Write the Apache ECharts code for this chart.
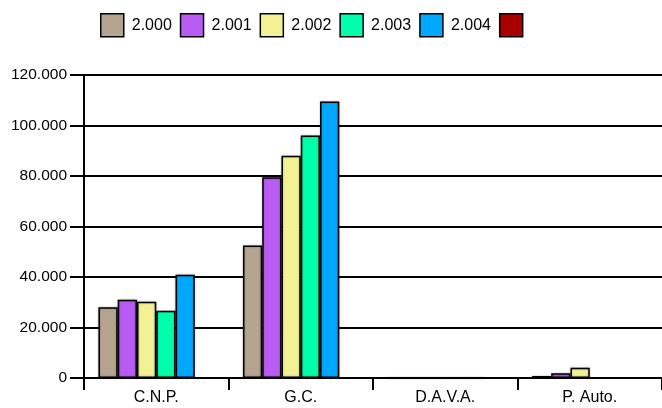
<!DOCTYPE html>
<html>
<head>
<meta charset="utf-8">
<script src="https://cdn.jsdelivr.net/npm/echarts@6/dist/echarts.min.js"></script>
<style>html,body{margin:0;padding:0;background:#fff;overflow:hidden}#c{width:662px;height:408px}</style>
</head>
<body>
<div id="c"></div>
<script>
var categories = ['C.N.P.', 'G.C.', 'D.A.V.A.', 'P. Auto.'];
var seriesNames = ['2.000', '2.001', '2.002', '2.003', '2.004', ' '];
var s2000 = [28000, 52500, 0, 800];
var s2001 = [31000, 79500, 0, 1900];
var s2002 = [30200, 88000, 0, 4100];
var s2003 = [26600, 96000, 0, null];
var s2004 = [40900, 109500, 0, null];
var s2005 = [null, null, null, null];
var seriesValues = [s2000, s2001, s2002, s2003, s2004, s2005];
var colors = ['#B5A48F', '#B95CF4', '#F2F294', '#00FFAA', '#00A8FF', '#A80000'];
var yTicks = { min: 0, max: 120000, interval: 20000 };

var chart = echarts.init(document.getElementById('c'));
var series = seriesNames.map(function (n, i) {
  return {
    name: n,
    type: 'bar',
    data: seriesValues[i],
    barGap: '0%',
    barCategoryGap: '20%',
    itemStyle: {
      color: colors[i], borderColor: '#000', borderWidth: 1.5,
      shadowColor: 'rgba(0,0,0,0.3)', shadowBlur: 2
    }
  };
});
chart.setOption({
  animation: false,
  color: colors,
  legend: {
    data: seriesNames,
    left: 100, top: 13, padding: 0,
    itemWidth: 23, itemHeight: 23, itemGap: 8,
    icon: 'rect',
    itemStyle: { borderColor: '#000', borderWidth: 1.5 },
    textStyle: { fontFamily: 'Liberation Sans, Arial', fontSize: 16, color: '#000', padding: [0, 0, 0, 3] }
  },
  grid: { left: 84, right: 0, top: 75, bottom: 30 },
  xAxis: {
    type: 'category',
    data: categories,
    boundaryGap: true,
    axisLine: { lineStyle: { color: '#000', width: 2 } },
    axisTick: { show: true, length: 12, lineStyle: { color: '#000', width: 2 } },
    axisLabel: { color: '#000', fontFamily: 'Liberation Sans, Arial', fontSize: 16, margin: 12 }
  },
  yAxis: {
    type: 'value',
    min: yTicks.min, max: yTicks.max, interval: yTicks.interval,
    axisLine: { show: true, lineStyle: { color: '#000', width: 2 } },
    axisTick: { show: true, length: 14, lineStyle: { color: '#000', width: 2 } },
    splitLine: { show: true, lineStyle: { color: '#000', width: 2 } },
    axisLabel: {
      color: '#000', fontFamily: 'Liberation Sans, Arial', fontSize: 15.5, margin: 17,
      formatter: function (v) { return v === 0 ? '0' : (v / 1000).toFixed(3); }
    }
  },
  series: series
});
</script>
</body>
</html>
